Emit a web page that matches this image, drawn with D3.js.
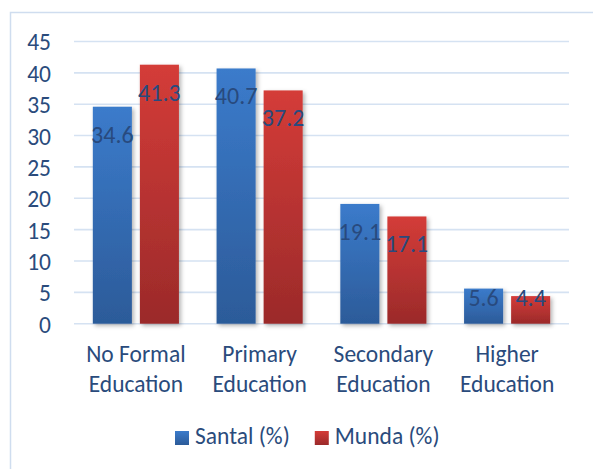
<!DOCTYPE html>
<html>
<head>
<meta charset="utf-8">
<script src="https://cdn.jsdelivr.net/npm/d3@7"></script>
<style>
  body { margin: 0; background: #fff; }
  text { font-family: Carlito, Lato, "Noto Sans", sans-serif; fill: #2a4b7c; }
</style>
</head>
<body>
<div id="chart"></div>
<script>
// data
const categories = [["No Formal", "Education"], ["Primary", "Education"], ["Secondary", "Education"], ["Higher", "Education"]];
const seriesNames = ["Santal (%)", "Munda (%)"];
const santal = [34.6, 40.7, 19.1, 5.6];
const munda = [41.3, 37.2, 17.1, 4.4];
const yTicks = [0, 5, 10, 15, 20, 25, 30, 35, 40, 45];

const svgWidth = 593;
const svgHeight = 469;

const margin = { top: 41.5, right: 24, bottom: 145.3, left: 74 };
const width = svgWidth - margin.left - margin.right;
const height = svgHeight - margin.top - margin.bottom;

const fontSize = "23.5px";

const svg = d3.select("#chart")
    .append("svg")
    .attr("width", svgWidth)
    .attr("height", svgHeight);

const defs = svg.append("defs");

// vertical gradients for the bars
const gradColors = [["#3b7bcb", "#2c5b99"], ["#d43c38", "#9b2a2a"]];
gradColors.forEach((c, i) => {
  const g = defs.append("linearGradient")
      .attr("id", "grad" + i)
      .attr("x1", 0).attr("y1", 0).attr("x2", 0).attr("y2", 1);
  g.append("stop").attr("offset", "0%").attr("stop-color", c[0]);
  g.append("stop").attr("offset", "100%").attr("stop-color", c[1]);
});

defs.append("filter")
    .attr("id", "shadow")
    .attr("x", "-20%").attr("y", "-10%").attr("width", "150%").attr("height", "130%")
  .append("feDropShadow")
    .attr("dx", 2).attr("dy", 2)
    .attr("stdDeviation", 2)
    .attr("flood-color", "#000")
    .attr("flood-opacity", 0.3);

// outer chart border (runs off the right and bottom edges)
svg.append("rect")
    .attr("x", 10.5).attr("y", 12.5)
    .attr("width", 700).attr("height", 600)
    .attr("fill", "none")
    .attr("stroke", "#cfddef")
    .attr("stroke-width", 1.5);

const chartGroup = svg.append("g")
    .attr("transform", `translate(${margin.left}, ${margin.top})`);

const rows = categories.map((c, i) => ({ cat: c.join(" "), lines: c, values: [santal[i], munda[i]] }));

const x0 = d3.scaleBand()
    .domain(rows.map(d => d.cat))
    .range([0, width])
    .padding(0);

const x1 = d3.scaleBand()
    .domain(seriesNames)
    .range([0, x0.bandwidth()])
    .paddingInner(0.17)
    .paddingOuter(0.4);

const yScale = d3.scaleLinear()
    .domain([0, 45])
    .range([height, 0]);

// gridlines
chartGroup.append("g")
    .selectAll("line")
    .data(yTicks)
    .enter()
    .append("line")
    .attr("x1", 0)
    .attr("x2", width)
    .attr("y1", d => yScale(d))
    .attr("y2", d => yScale(d))
    .attr("stroke", "#d5e2f2")
    .attr("stroke-width", 1.6);

// y axis labels
const leftAxis = d3.axisLeft(yScale).tickValues(yTicks).tickSize(0).tickPadding(23);
const yAxis = chartGroup.append("g").call(leftAxis);
yAxis.select(".domain").remove();
yAxis.selectAll("text")
    .style("font-size", fontSize)
    .attr("dy", "0.36em")
    .attr("fill", "#2a4b7c");

// bars
const groups = chartGroup.selectAll(".group")
    .data(rows)
    .enter()
    .append("g")
    .attr("class", "group")
    .attr("transform", d => `translate(${x0(d.cat)}, 0)`);

groups.selectAll("rect")
    .data(d => d.values.map((v, i) => ({ key: seriesNames[i], v: v, i: i })))
    .enter()
    .append("rect")
    .attr("x", d => x1(d.key))
    .attr("y", d => yScale(d.v))
    .attr("width", x1.bandwidth())
    .attr("height", d => height - yScale(d.v))
    .attr("fill", d => `url(#grad${d.i})`)
    .attr("filter", "url(#shadow)");

// value labels sit inside the top of each bar
groups.selectAll(".val")
    .data(d => d.values.map((v, i) => ({ key: seriesNames[i], v: v })))
    .enter()
    .append("text")
    .attr("class", "val")
    .attr("x", d => x1(d.key) + x1.bandwidth() / 2)
    .attr("y", d => Math.min(yScale(d.v) + 36, height - 18))
    .attr("text-anchor", "middle")
    .style("font-size", "24px")
    .style("fill", "#284a7e")
    .text(d => d.v.toFixed(1));

// category labels, two lines each
const catText = chartGroup.selectAll(".cat")
    .data(rows)
    .enter()
    .append("text")
    .attr("class", "cat")
    .attr("text-anchor", "middle")
    .attr("x", d => x0(d.cat) + x0.bandwidth() / 2)
    .attr("y", height + 38)
    .style("font-size", fontSize);

catText.selectAll("tspan")
    .data(d => d.lines.map(l => ({ l: l, x: x0(d.cat) + x0.bandwidth() / 2 })))
    .enter()
    .append("tspan")
    .attr("x", d => d.x)
    .attr("dy", (d, i) => i === 0 ? 0 : 30)
    .text(d => d.l);

// legend
const legend = svg.append("g").attr("transform", "translate(0, 444)");
let lx = 175;
seriesNames.forEach((name, i) => {
  legend.append("rect")
      .attr("x", lx).attr("y", -13)
      .attr("width", 14).attr("height", 14)
      .attr("fill", `url(#grad${i})`);
  const t = legend.append("text")
      .attr("x", lx + 20).attr("y", 0)
      .style("font-size", fontSize)
      .text(name);
  lx += 20 + t.node().getComputedTextLength() + 25;
});
</script>
</body>
</html>
